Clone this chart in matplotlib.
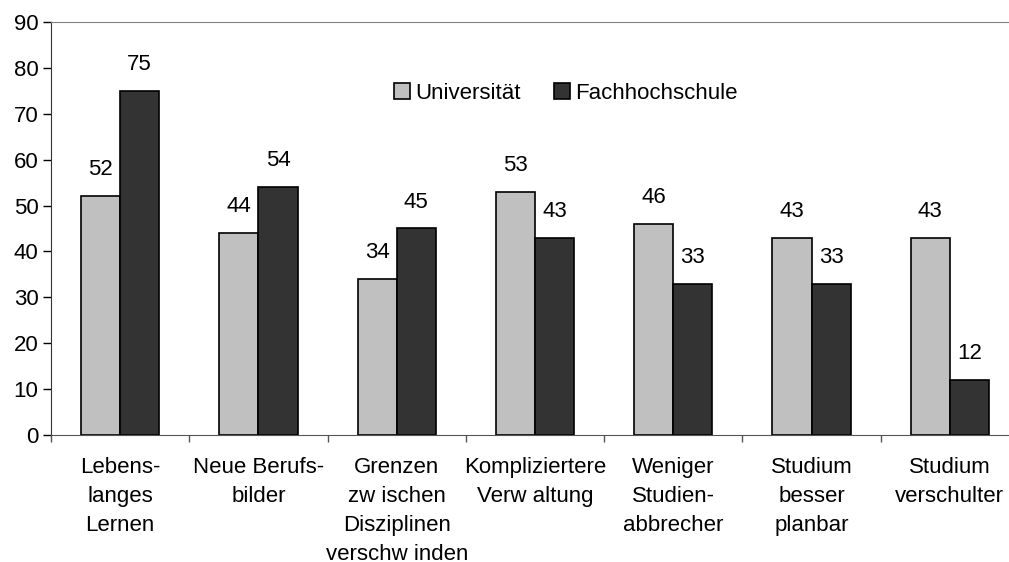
import matplotlib.pyplot as plt
import numpy as np

plt.rcParams['font.family'] = ['Liberation Sans', 'DejaVu Sans']

categories = ['Lebens-\nlanges\nLernen', 'Neue Berufs-\nbilder',
              'Grenzen\nzw ischen\nDisziplinen\nverschw inden',
              'Kompliziertere\nVerw altung', 'Weniger\nStudien-\nabbrecher',
              'Studium\nbesser\nplanbar', 'Studium\nverschulter']
uni = [52, 44, 34, 53, 46, 43, 43]
fh = [75, 54, 45, 43, 33, 33, 12]

W, H = 1009, 562
fs = 16
fig = plt.figure(figsize=(W / 100, H / 100), dpi=100)
ax = fig.add_axes([51 / W, (H - 435) / H, (1019 - 51) / W, (435 - 22) / H])

x = np.arange(len(categories))
bw = 0.283
b1 = ax.bar(x - bw / 2, uni, bw, color='#c0c0c0', edgecolor='black', linewidth=1.2,
            label='Universität', zorder=2)
b2 = ax.bar(x + bw / 2, fh, bw, color='#333333', edgecolor='black', linewidth=1.2,
            label='Fachhochschule', zorder=2)

for bars, vals in ((b1, uni), (b2, fh)):
    for r, v in zip(bars, vals):
        ax.annotate(str(v), (r.get_x() + r.get_width() / 2, v), xytext=(0, 11.5),
                    textcoords='offset points', ha='center', va='bottom', fontsize=fs)

ax.set_xlim(-0.5, len(categories) - 0.5)
ax.set_ylim(0, 90)
ax.set_yticks(range(0, 91, 10))
ax.tick_params(axis='y', labelsize=fs, length=6, width=1, pad=3)
ax.set_xticks(x)
ax.set_xticklabels(categories, fontsize=fs, linespacing=1.5)
ax.tick_params(axis='x', length=0, pad=16)
ax.set_xticks(np.arange(len(categories) + 1) - 0.5, minor=True)
ax.tick_params(axis='x', which='minor', length=5, width=1, color='#555555')

ax.spines['top'].set_color('#808080')
ax.spines['right'].set_visible(False)
ax.spines['left'].set_color('#333333')
ax.spines['bottom'].set_color('#555555')

ax.legend(loc='upper center', bbox_to_anchor=(0.532, 0.875), ncol=2, frameon=False,
          fontsize=fs, handlelength=0.7, handleheight=0.7, handletextpad=0.25,
          columnspacing=1.5, borderaxespad=0)

fig.savefig('out.png', dpi=100)
